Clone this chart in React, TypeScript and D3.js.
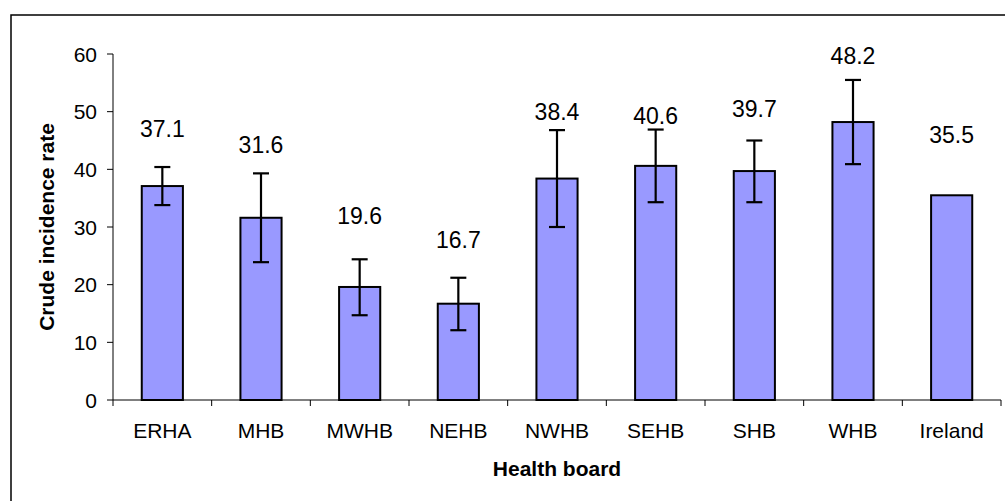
import React from 'react';
import * as d3 from 'd3';

// values
const boards = ['ERHA', 'MHB', 'MWHB', 'NEHB', 'NWHB', 'SEHB', 'SHB', 'WHB', 'Ireland'];
const rates = [37.1, 31.6, 19.6, 16.7, 38.4, 40.6, 39.7, 48.2, 35.5];
const ciUpper: (number | null)[] = [40.4, 39.3, 24.4, 21.2, 46.8, 46.9, 45.0, 55.5, null];
const ciLower: (number | null)[] = [33.8, 23.9, 14.7, 12.1, 30.0, 34.3, 34.3, 40.9, null];
// where each value label sits (baseline, in rate units), placed by hand in the original
const labelAt = [45.6, 42.8, 30.5, 26.4, 48.6, 47.8, 49.0, 58.3, 44.5];
const yTicks = [0, 10, 20, 30, 40, 50, 60];

const W = 1005;
const H = 501;
const plot = { left: 113, right: 1001, top: 54, bottom: 400 };
const font = '"Liberation Sans", Arial, sans-serif';

const App = () => {
  const x = d3
    .scaleBand<string>()
    .domain(boards)
    .range([plot.left, plot.right])
    .paddingInner(0.583)
    .paddingOuter(0.2915);

  const y = d3.scaleLinear().domain([0, 60]).range([plot.bottom, plot.top]);

  const step = x.step();
  const bw = x.bandwidth();
  const capHalf = 8;

  return (
    <svg
      width={W}
      height={H}
      style={{ position: 'absolute', left: 0, top: 0, background: '#fff' }}
      fontFamily={font}
    >
      <rect x={0} y={0} width={W} height={H} fill="#fff" />
      {/* chart frame */}
      <rect x={11} y={15} width={W + 10} height={H + 10} fill="none" stroke="#000" strokeWidth={1.5} />

      {/* y axis */}
      <line x1={plot.left} x2={plot.left} y1={plot.top} y2={plot.bottom + 6} stroke="#000" strokeWidth={1} />
      {yTicks.map((t) => (
        <g key={t}>
          <line x1={plot.left - 6} x2={plot.left} y1={y(t)} y2={y(t)} stroke="#000" strokeWidth={1} />
          <text x={plot.left - 16} y={y(t)} dy="0.36em" textAnchor="end" fontSize={21} fill="#000">
            {t}
          </text>
        </g>
      ))}

      {/* x axis */}
      <line x1={plot.left} x2={plot.right} y1={plot.bottom} y2={plot.bottom} stroke="#000" strokeWidth={1} />
      {boards.map((b, i) => (
        <line
          key={'t' + b}
          x1={plot.left + (i + 1) * step}
          x2={plot.left + (i + 1) * step}
          y1={plot.bottom}
          y2={plot.bottom + 6}
          stroke="#000"
          strokeWidth={1}
        />
      ))}

      {/* bars */}
      {boards.map((b, i) => (
        <rect
          key={'b' + b}
          x={x(b)!}
          y={y(rates[i])}
          width={bw}
          height={y(0) - y(rates[i])}
          fill="#9999FF"
          stroke="#000"
          strokeWidth={2}
        />
      ))}

      {/* error bars */}
      {boards.map((b, i) => {
        const hi = ciUpper[i];
        const lo = ciLower[i];
        if (hi == null || lo == null) return null;
        const cx = x(b)! + bw / 2;
        return (
          <g key={'e' + b} stroke="#000" strokeWidth={2.2}>
            <line x1={cx} x2={cx} y1={y(hi)} y2={y(lo)} />
            <line x1={cx - capHalf} x2={cx + capHalf} y1={y(hi)} y2={y(hi)} />
            <line x1={cx - capHalf} x2={cx + capHalf} y1={y(lo)} y2={y(lo)} />
          </g>
        );
      })}

      {/* value labels */}
      {boards.map((b, i) => (
        <text
          key={'l' + b}
          x={x(b)! + bw / 2}
          y={y(labelAt[i])}
          textAnchor="middle"
          fontSize={23}
          fill="#000"
        >
          {rates[i].toFixed(1)}
        </text>
      ))}

      {/* category labels */}
      {boards.map((b) => (
        <text key={'c' + b} x={x(b)! + bw / 2} y={438} textAnchor="middle" fontSize={21} fill="#000">
          {b}
        </text>
      ))}

      {/* axis titles */}
      <text x={557} y={476} textAnchor="middle" fontSize={21} fontWeight="bold" fill="#000">
        Health board
      </text>
      <text
        transform={`translate(54,${(plot.top + plot.bottom) / 2}) rotate(-90)`}
        textAnchor="middle"
        fontSize={21}
        fontWeight="bold"
        fill="#000"
      >
        Crude incidence rate
      </text>
    </svg>
  );
};

export default App;
